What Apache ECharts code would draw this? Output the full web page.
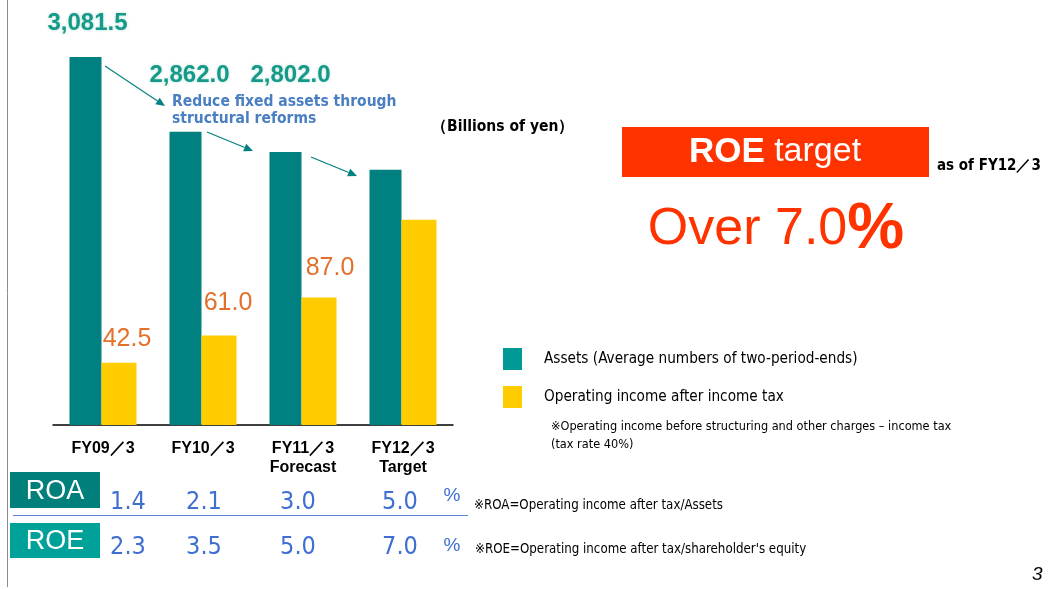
<!DOCTYPE html>
<html><head><meta charset="utf-8">
<script src="https://cdn.jsdelivr.net/npm/echarts@6/dist/echarts.min.js"></script>
<style>html,body{margin:0;padding:0;background:#fff}#c{width:1048px;height:589px}</style>
</head><body><div id="c"></div>
<script>
// ---- data ----
const categories = ['FY09／3', 'FY10／3', 'FY11／3\nForecast', 'FY12／3\nTarget'];
const assets = [3081.5, 2862.0, 2802.0, 2750.0];
const income = [42.5, 61.0, 87.0, 140.0];
const showAssetLabel = [true, true, true, false];
const showIncomeLabel = [true, true, true, false];
const roa = ['1.4', '2.1', '3.0', '5.0'];
const roe = ['2.3', '3.5', '5.0', '7.0'];
const seriesNames = ['Assets (Average numbers of two-period-ends)', 'Operating income after income tax'];

// ---- layout / style ----
const NARROW = "'Liberation Sans Narrow','DejaVu Sans Condensed',sans-serif";
const SANS = "'Liberation Sans',Arial,sans-serif";
const assetLabelOffset = [[2, -17], [4, -39], [5, -60], [0, 0]];
const incomeLabelOffset = [[8, -6], [9, -15], [11, -12], [0, 0]];
const tableX = [128, 204, 298, 400];

function fmt(v) {
  return v.toLocaleString('en-US', {minimumFractionDigits: 1, maximumFractionDigits: 1});
}

const chart = echarts.init(document.getElementById('c'), null, {renderer: 'canvas'});

function arrow(x1, y1, x2, y2) {
  const ang = Math.atan2(y2 - y1, x2 - x1);
  const L = 9, W = 4;
  const bx = x2 - L * Math.cos(ang), by = y2 - L * Math.sin(ang);
  const px = -Math.sin(ang) * W, py = Math.cos(ang) * W;
  return [
    {type: 'line', shape: {x1, y1, x2: bx, y2: by}, style: {stroke: '#008080', lineWidth: 1.2}},
    {type: 'polygon', shape: {points: [[x2, y2], [bx + px, by + py], [bx - px, by - py]]}, style: {fill: '#008080'}}
  ];
}

const graphics = [
  {type: 'line', shape: {x1: 7.5, y1: 0, x2: 7.5, y2: 587}, style: {stroke: '#8c8c8c', lineWidth: 1}},
  ...arrow(105, 66, 165, 106),
  ...arrow(207, 132, 253, 151),
  ...arrow(311, 157, 357, 176),
  {type: 'text', left: 172, top: 93, style: {text: 'Reduce fixed assets through\nstructural reforms', fill: '#4A7EC2',
    font: 'bold 15.5px ' + NARROW, lineHeight: 17}},
  {type: 'text', left: 431, top: 119, style: {text: '（Billions of yen）', fill: '#000', font: 'bold 15.5px ' + NARROW}},
  {type: 'rect', shape: {x: 622, y: 127, width: 307, height: 50}, style: {fill: '#FF3300'}},
  {type: 'text', x: 775, y: 152, style: {
    text: '{a|ROE}{b| target}', align: 'center', verticalAlign: 'middle',
    rich: {a: {font: 'bold 35px ' + SANS, fill: '#fff'}, b: {font: '34px ' + SANS, fill: '#fff'}}}},
  {type: 'text', left: 937, top: 159, style: {text: 'as of FY12／3', fill: '#000', font: 'bold 15px ' + NARROW}},
  {type: 'text', x: 776, y: 230, style: {
    text: '{a|Over 7.0}{b|%}', align: 'center', verticalAlign: 'middle',
    rich: {a: {font: '52px ' + SANS, fill: '#FF3300'}, b: {font: 'bold 64px ' + SANS, fill: '#FF3300'}}}},
  {type: 'text', left: 551, top: 418, style: {text: '※Operating income before structuring and other charges – income tax\n(tax rate 40%)',
    fill: '#000', font: '12.6px ' + NARROW, lineHeight: 18}},
  {type: 'rect', shape: {x: 10, y: 472, width: 90, height: 36}, style: {fill: '#007F7B'}},
  {type: 'text', x: 55, y: 492, style: {text: 'ROA', fill: '#fff', font: '27px ' + SANS, align: 'center', verticalAlign: 'middle'}},
  {type: 'rect', shape: {x: 10, y: 523, width: 90, height: 35}, style: {fill: '#00A199'}},
  {type: 'text', x: 55, y: 542, style: {text: 'ROE', fill: '#fff', font: '27px ' + SANS, align: 'center', verticalAlign: 'middle'}},
  {type: 'line', shape: {x1: 13, y1: 515.5, x2: 468, y2: 515.5}, style: {stroke: '#5A80D8', lineWidth: 1}},
  {type: 'text', x: 452, y: 496, style: {text: '%', fill: '#3F6FD1', font: '19px ' + SANS, align: 'center', verticalAlign: 'middle'}},
  {type: 'text', x: 452, y: 546, style: {text: '%', fill: '#3F6FD1', font: '19px ' + SANS, align: 'center', verticalAlign: 'middle'}},
  {type: 'text', left: 474, top: 499, style: {text: '※ROA=Operating income after tax/Assets', fill: '#000', font: '13.2px ' + NARROW}},
  {type: 'text', left: 475, top: 543, style: {text: "※ROE=Operating income after tax/shareholder's equity", fill: '#000', font: '13.2px ' + NARROW}},
  {type: 'text', left: 1032, top: 565, style: {text: '3', fill: '#000', font: 'italic 19px ' + SANS}}
];
roa.forEach((t, i) => graphics.push({type: 'text', x: tableX[i], y: 502, style: {text: t, fill: '#3F6FD1', font: '25px ' + NARROW, align: 'center', verticalAlign: 'middle'}}));
roe.forEach((t, i) => graphics.push({type: 'text', x: tableX[i], y: 547, style: {text: t, fill: '#3F6FD1', font: '25px ' + NARROW, align: 'center', verticalAlign: 'middle'}}));

const option = {
  animation: false,
  backgroundColor: '#fff',
  grid: {left: 53, right: 595, top: 57, bottom: 164, containLabel: false},
  legend: {
    orient: 'vertical', left: 503, top: 348, padding: 0,
    itemWidth: 19, itemHeight: 22, itemGap: 16, icon: 'rect',
    textStyle: {fontSize: 15.2, fontFamily: NARROW, color: '#000', padding: [0, 0, 0, 17]},
    data: [
      {name: seriesNames[0], itemStyle: {color: '#009A96'}},
      {name: seriesNames[1], itemStyle: {color: '#FFCC00'}}
    ]
  },
  xAxis: {
    type: 'category', data: categories,
    axisLine: {lineStyle: {color: '#000', width: 1.5}},
    axisTick: {show: false},
    axisLabel: {color: '#000', fontWeight: 'bold', fontSize: 16, fontFamily: SANS, lineHeight: 19, margin: 14}
  },
  yAxis: [
    {type: 'value', min: 2000, max: 3081.5, show: false, splitLine: {show: false}},
    {type: 'value', min: 0, max: 251, show: false, splitLine: {show: false}}
  ],
  series: [
    {
      name: seriesNames[0], type: 'bar', yAxisIndex: 0, barWidth: 32, barGap: '0%',
      itemStyle: {color: '#008080'},
      data: assets.map((v, i) => ({
        value: v,
        label: {show: showAssetLabel[i], position: 'top', offset: assetLabelOffset[i],
          formatter: () => fmt(v), color: '#16998B', fontSize: 24, fontWeight: 'bold', fontFamily: SANS,
          textShadowColor: 'rgba(120,200,170,0.6)', textShadowBlur: 3}
      }))
    },
    {
      name: seriesNames[1], type: 'bar', yAxisIndex: 1, barWidth: 35, barGap: '0%',
      itemStyle: {color: '#FFCC00'},
      data: income.map((v, i) => ({
        value: v,
        label: {show: showIncomeLabel[i], position: 'top', offset: incomeLabelOffset[i],
          formatter: () => fmt(v), color: '#E2702A', fontSize: 25, fontFamily: SANS}
      }))
    }
  ],
  graphic: graphics
};
chart.setOption(option);
</script>
</body></html>
